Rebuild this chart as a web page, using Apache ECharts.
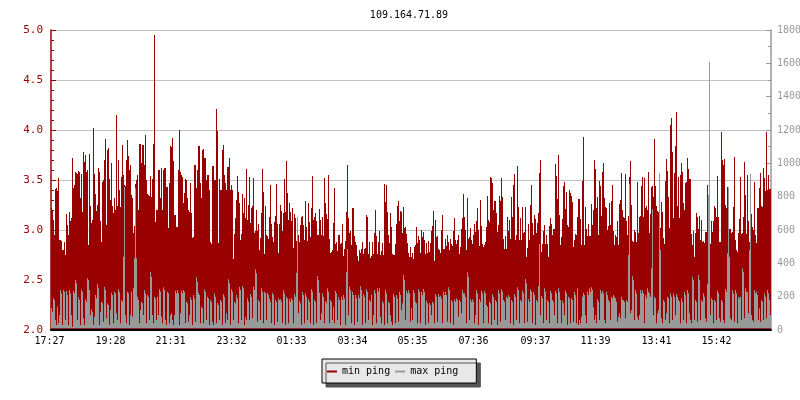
<!DOCTYPE html>
<html><head><meta charset="utf-8">
<style>html,body{margin:0;background:#fff}#c{width:800px;height:400px}</style>
<script src="https://cdn.jsdelivr.net/npm/echarts@6/dist/echarts.min.js"></script></head>
<body><div id="c"></div>
<script>
const tickLabels=['17:27','19:28','21:31','23:32','01:33','03:34','05:35','07:36','09:37','11:39','13:41','15:42'];
const tickIndex=[0,61,121,182,242,303,363,424,486,546,607,667];
const minA=[3.22,3.20,3.10,2.95,3.41,3.42,3.39,3.52,2.90,2.90,2.89,2.80,2.80,2.88,2.75,3.16,3.05,2.95,3.18,3.09,3.12,3.72,3.42,3.45,3.58,3.57,3.56,3.59,3.58,3.32,
3.56,3.18,3.78,3.68,3.75,3.58,3.60,2.85,3.76,3.24,3.07,3.10,4.02,3.56,3.36,3.19,3.25,3.62,3.58,3.09,2.88,3.48,3.50,3.70,3.91,3.05,3.80,3.82,3.51,3.30,
3.67,3.24,3.17,3.32,3.20,4.15,3.24,3.70,3.40,3.23,3.53,3.85,3.55,3.45,3.44,3.70,3.90,3.74,3.60,3.65,3.35,3.32,2.97,3.04,3.46,3.50,3.55,3.20,3.86,3.86,
3.67,3.85,3.85,3.65,3.95,3.50,3.36,3.35,3.34,3.54,3.33,3.51,3.86,4.95,3.08,3.20,3.20,3.60,3.60,3.32,3.62,3.20,3.60,3.62,3.62,3.43,3.43,3.02,3.47,3.84,
3.83,3.92,3.69,3.15,3.15,3.03,3.03,3.60,4.00,3.58,3.55,3.53,3.27,3.37,3.51,3.50,3.32,3.20,3.18,3.47,3.17,2.92,2.93,3.65,3.65,3.42,3.60,3.84,3.84,3.47,
3.32,3.80,3.81,3.72,3.72,3.50,3.55,3.55,3.40,2.88,2.86,3.64,3.64,3.50,3.50,4.21,3.99,2.87,3.51,3.40,3.40,3.80,3.85,3.55,3.47,3.40,3.63,3.63,3.72,3.40];
const minB=[3.45,3.40,2.71,2.96,3.12,3.30,3.54,3.38,3.27,2.90,2.96,3.36,3.17,3.32,3.12,3.61,3.10,3.25,3.53,3.07,3.22,3.24,3.52,2.97,2.99,3.20,2.99,3.06,2.80,2.92,
3.17,3.61,3.38,2.76,3.24,2.95,2.94,2.91,3.13,3.45,3.06,2.93,2.88,3.08,3.14,3.46,3.06,2.77,3.06,3.25,3.19,2.99,3.17,3.51,3.18,3.69,3.37,3.10,3.27,3.18,
3.09,3.22,2.82,3.16,3.12,2.89,3.13,2.95,2.88,3.05,3.13,3.14,3.05,2.90,3.29,3.03,2.89,3.27,3.08,2.93,3.22,3.54,3.10,3.13,3.17,3.09,2.95,2.95,3.21,3.10,
2.95,3.13,2.94,3.52,3.27,3.16,3.11,3.55,2.91,2.77,2.78,2.80,3.07,3.42,2.86,2.88,2.79,2.95,2.95,2.86,2.87,3.06,2.74,2.81,2.89,3.18,3.65,3.12,2.97,2.99,
2.85,3.22,3.22,2.94,2.88,2.85,2.74,2.69,2.80,2.77,2.81,2.88,2.76,2.81,2.82,3.15,3.13,2.76,2.88,2.72,2.74,2.88,2.76,2.97,3.20,2.94,2.76,2.88,2.99,2.75,
2.79,2.87,2.75,3.46,3.28,3.45,3.18,2.95,2.87,3.17,3.03,2.76,2.75,2.75,2.86,3.06,3.24,3.29,3.09,3.19,3.18,2.97,3.23,3.02,3.03,2.96,2.87,2.77,2.73,2.83];
const minC=[2.73,2.77,2.71,2.83,2.85,3.03,2.87,2.94,2.90,2.77,3.00,2.93,2.98,2.90,2.76,2.87,2.77,2.89,2.78,2.87,2.99,3.04,3.19,2.69,3.10,2.93,2.94,2.81,2.80,2.77,
3.00,3.15,2.81,2.81,2.91,2.84,2.95,2.88,2.80,2.91,2.86,2.84,2.99,3.12,2.90,2.86,2.90,2.95,2.76,2.83,3.01,3.12,3.36,3.13,3.00,2.80,3.32,2.91,2.93,3.02,
2.90,2.86,2.95,3.06,2.98,3.09,3.22,3.00,2.84,3.30,3.04,2.86,2.83,2.85,2.88,3.03,3.34,3.10,3.08,3.53,3.52,3.47,3.20,3.29,3.29,3.17,2.98,3.05,3.34,3.29,
3.52,3.33,2.91,2.81,2.94,2.81,3.13,2.99,3.10,2.91,3.33,3.13,3.45,3.56,2.90,2.95,3.64,3.23,2.90,3.12,2.90,3.23,2.97,2.98,3.23,2.73,2.82,3.06,2.90,3.25,
3.45,3.07,2.95,3.15,3.11,2.97,3.07,3.17,3.57,3.70,2.78,2.86,2.99,3.05,2.86,2.95,2.86,2.73,3.04,3.12,3.06,2.95,3.01,3.01,3.66,3.54,3.31,3.75,3.15,2.85,
2.93,3.11,3.44,3.48,3.21,3.38,3.05,3.03,3.40,3.37,3.34,3.28,2.83,2.90,2.96,2.95,3.13,3.31,3.31,3.11,2.85,3.49,3.93,2.85,3.23,3.01,2.94,3.06,2.94,2.94];
const minD=[3.26,3.05,3.20,3.70,3.61,3.22,3.33,2.95,3.49,3.44,3.14,3.58,3.67,3.32,3.23,3.22,3.00,3.04,3.27,3.05,3.29,3.45,2.99,2.85,2.95,2.93,3.09,2.85,3.26,3.30,
3.57,3.20,3.13,3.12,3.56,3.09,2.95,3.14,3.53,3.69,3.25,2.89,2.88,3.00,2.98,2.88,3.48,2.97,3.13,3.14,3.44,3.53,3.13,3.52,3.22,3.24,3.20,3.58,2.97,3.16,
3.43,3.44,3.33,3.91,3.44,3.24,3.19,3.18,2.95,3.02,3.28,3.18,2.92,2.86,3.49,3.71,3.59,3.33,3.02,4.05,4.12,3.78,3.12,3.57,3.84,4.18,3.24,3.53,3.12,3.55,
3.67,3.58,3.27,3.20,3.47,3.48,3.72,3.61,3.51,3.51,2.96,2.85,2.99,2.73,2.97,3.17,3.13,3.01,3.14,2.90,3.10,2.88,2.89,2.87,2.98,2.98,3.45,3.35,3.14,2.86,
3.09,2.98,3.09,3.24,3.22,3.13,3.54,3.13,2.88,2.88,3.98,3.70,3.65,3.71,3.25,3.22,3.43,2.87,3.01,3.01,2.97,2.98,3.23,3.73,2.90,2.80,2.78,2.97,3.11,3.53,
2.96,2.97,3.13,3.68,3.35,2.96,3.55,3.09,2.88,2.88,3.16,3.03,3.00,3.48,2.95,2.87,3.22,3.22,3.42,3.57,3.24,3.23,3.62,3.52,3.39,3.98,3.40,3.55,3.41,3.41];
const maxA=[130,110,190,180,60,30,140,40,90,240,220,30,240,230,60,234,210,30,240,220,90,20,236,220,300,280,60,196,180,30,
240,230,70,30,184,170,312,300,240,90,124,110,30,80,210,190,276,250,30,110,170,160,50,260,240,70,160,150,30,120,
224,210,40,230,220,100,60,244,230,40,180,170,440,860,90,40,230,220,30,90,230,80,250,430,850,430,200,180,40,120,
170,160,90,240,220,40,210,200,60,350,320,90,40,200,190,60,200,90,244,230,80,40,256,240,60,30,230,220,40,90,
100,60,30,90,236,220,240,220,30,100,236,220,240,230,40,170,160,50,90,196,180,30,210,190,50,316,290,224,210,40,
140,130,40,244,230,60,200,190,30,180,170,50,30,220,200,40,160,150,60,180,170,30,216,200,40,100,60,304,280,30];
const maxB=[244,230,60,170,160,210,190,40,260,240,60,264,250,30,80,60,190,170,60,216,200,70,260,240,364,340,50,180,170,60,
250,230,40,230,220,60,224,210,186,170,40,224,210,30,180,170,50,190,180,186,170,40,240,220,30,200,190,40,186,170,
192,180,40,216,200,344,680,100,176,160,30,230,210,40,220,200,60,186,170,40,246,230,30,180,170,40,324,300,224,60,
100,220,200,40,174,160,250,230,40,180,170,60,140,40,234,220,60,196,180,30,200,180,210,190,30,348,486,90,260,240,
40,230,210,30,210,190,50,210,190,264,240,30,216,200,40,246,230,60,180,170,210,30,90,240,220,40,250,230,250,80,
40,174,160,30,240,220,40,170,160,90,50,30,216,200,40,210,190,50,230,210,120,160,330,300,60,236,220,240,220,50];
const maxC=[130,60,240,220,170,160,40,246,230,40,230,210,246,230,30,176,160,40,160,150,90,170,160,40,216,200,50,216,200,206,
190,40,230,210,230,210,50,256,240,40,180,170,30,184,170,190,180,80,180,170,100,240,220,220,200,40,346,320,60,184,
170,184,170,40,90,240,220,30,186,170,236,220,40,234,220,150,140,40,170,160,30,216,200,60,180,170,30,240,220,50,
244,230,180,170,60,200,190,210,200,40,180,170,30,216,200,60,256,240,40,180,170,236,220,40,306,280,50,184,170,244,
230,40,230,210,30,180,170,264,516,90,204,190,40,250,230,60,180,170,40,236,220,180,170,90,236,220,40,250,230,180,
40,176,160,90,236,220,30,200,190,40,190,180,50,230,210,40,250,30,60,40,80,200,224,210,90,40,230,210,250,230];
const maxD=[256,240,136,60,90,40,184,170,60,240,220,236,220,60,40,230,210,180,170,60,200,190,210,200,190,170,50,80,100,70,
200,180,180,170,70,180,170,450,876,100,120,324,300,60,240,220,80,60,90,240,220,240,220,40,210,190,250,230,220,200,
370,724,90,200,190,40,100,120,940,480,70,40,180,170,60,100,200,190,40,220,200,60,220,200,90,216,200,180,170,40,
190,170,60,230,210,40,240,220,100,60,40,320,300,60,180,170,50,330,300,60,180,170,220,200,70,50,276,810,1608,90,
190,180,40,180,170,60,236,220,70,50,180,170,60,40,246,230,460,856,440,70,60,240,220,50,240,220,40,200,190,200,
60,370,350,70,250,230,230,100,480,936,90,60,50,240,220,230,210,60,130,50,180,170,60,220,200,70,240,220,180,90];
const minPing=[...minA,...minB,...minC,...minD];
const maxPing=[...maxA,...maxB,...maxC,...maxD];
const cats=minPing.map((_,i)=>{const k=tickIndex.indexOf(i);return k>=0?tickLabels[k]:''});
const mono='"DejaVu Sans Mono","Liberation Mono",monospace';
const chart=echarts.init(document.getElementById('c'),null,{renderer:'canvas'});
chart.setOption({
 animation:false,backgroundColor:'#fff',
 title:{text:'109.164.71.89',left:404,top:5,textAlign:'center',textStyle:{fontFamily:mono,fontSize:10,fontWeight:'normal',color:'#000'}},
 legend:{left:322,top:359,data:['min ping','max ping'],icon:'rect',itemWidth:10,itemHeight:2,itemGap:5,padding:[6,18,5,5],backgroundColor:'#e8e8e8',borderColor:'#000',borderWidth:1,borderRadius:0,shadowColor:'#555',shadowBlur:0,shadowOffsetX:4,shadowOffsetY:4,textStyle:{fontFamily:mono,fontSize:10,color:'#000',lineHeight:13}},
 grid:{left:51,right:29,top:30,bottom:70,containLabel:false,outerBoundsMode:'none'},
 xAxis:{type:'category',data:cats,z:10,boundaryGap:true,
  axisLine:{lineStyle:{color:'#000',width:2}},
  axisTick:{inside:true,length:4,customValues:tickIndex,lineStyle:{color:'#000'}},
  axisLabel:{customValues:tickIndex,margin:6,padding:[0,4,0,0],fontFamily:mono,fontSize:10,color:'#000',formatter:v=>v}},
 yAxis:[
  {type:'value',min:2,max:5,interval:0.5,position:'left',
   axisLine:{show:true,lineStyle:{color:'#990000',width:1.5}},
   axisTick:{show:true,inside:true,length:5,lineStyle:{color:'#990000'}},
   minorTick:{show:true,splitNumber:5,length:3,lineStyle:{color:'#990000'}},
   axisLabel:{margin:8,fontFamily:mono,fontSize:11,color:'#990000',formatter:v=>v.toFixed(1)},
   splitLine:{show:true,lineStyle:{color:'#c0c0c0',width:1}}},
  {type:'value',min:0,max:1800,interval:200,position:'right',
   axisLine:{show:true,lineStyle:{color:'#999999',width:1.5}},
   axisTick:{show:true,inside:true,length:5,lineStyle:{color:'#999999'}},
   minorTick:{show:true,splitNumber:2,length:3,lineStyle:{color:'#999999'}},
   axisLabel:{margin:6,fontFamily:mono,fontSize:10,color:'#999999',formatter:v=>String(v)},
   splitLine:{show:false}}],
 series:[
  {name:'min ping',type:'bar',yAxisIndex:0,data:minPing,barWidth:1,barGap:'-100%',itemStyle:{color:'#990000'},z:2,silent:true},
  {name:'max ping',type:'bar',yAxisIndex:1,data:maxPing,barWidth:1,barGap:'-100%',itemStyle:{color:'#999999'},z:3,silent:true,
   markArea:{silent:true,z:5,itemStyle:{color:'#990000'},data:[[{yAxis:0},{yAxis:10}]]}}
 ]
});
</script></body></html>
